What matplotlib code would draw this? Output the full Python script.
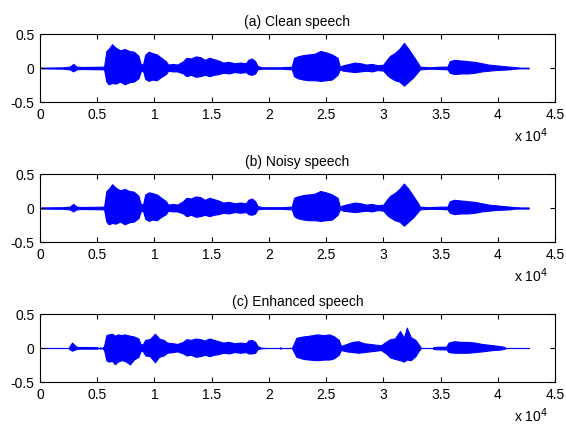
import matplotlib
matplotlib.use("Agg")
import matplotlib.pyplot as plt
from matplotlib.ticker import FuncFormatter

plt.rcParams['font.family'] = ['Liberation Sans', 'DejaVu Sans']

titles = ["(a) Clean speech", "(b) Noisy speech", "(c) Enhanced speech"]
x_ticks = [0, 5000, 10000, 15000, 20000, 25000, 30000, 35000, 40000, 45000]
y_ticks = [-0.5, 0, 0.5]

# Envelope of each waveform (sample index, upper, lower)
clean_x = [0, 2000, 2600, 2900, 3200, 3600, 5600, 5800, 6000, 6300, 6600, 7000, 7400, 7800,
           8200, 8600, 8800, 9000, 9200, 9500, 9800, 10200, 10600, 11000, 11200, 11600,
           12000, 12500, 12800, 13200, 13600, 14000, 14400, 14800, 15200, 15600, 16000,
           16500, 17000, 17500, 18000, 18200, 18500, 18800, 19000, 19400, 20000, 21000,
           22000, 22200, 22500, 23000, 23500, 24000, 24500, 25000, 25500, 26000, 26200,
           26500, 27000, 27500, 28000, 28500, 29000, 29500, 30000, 30300, 30600, 31000,
           31400, 31800, 32200, 32600, 33000, 33200, 34000, 35000, 35600, 35800, 36200,
           36800, 37400, 38000, 38600, 39200, 39800, 40400, 41000, 41400, 42000, 42700]
clean_up = [0.005, 0.01, 0.02, 0.06, 0.02, 0.015, 0.02, 0.25, 0.28, 0.35, 0.30, 0.26, 0.28, 0.25,
            0.24, 0.18, 0.06, 0.05, 0.20, 0.24, 0.22, 0.20, 0.15, 0.10, 0.05, 0.06,
            0.05, 0.10, 0.15, 0.14, 0.17, 0.16, 0.12, 0.15, 0.13, 0.11, 0.08,
            0.09, 0.07, 0.08, 0.07, 0.12, 0.14, 0.10, 0.03, 0.01, 0.01, 0.01,
            0.02, 0.15, 0.17, 0.19, 0.20, 0.21, 0.25, 0.23, 0.20, 0.15, 0.02,
            0.04, 0.06, 0.08, 0.07, 0.05, 0.06, 0.04, 0.05, 0.12, 0.18, 0.22,
            0.28, 0.37, 0.28, 0.18, 0.08, 0.02, 0.01, 0.02, 0.02, 0.10, 0.12,
            0.11, 0.10, 0.09, 0.07, 0.05, 0.04, 0.03, 0.02, 0.015, 0.005, 0.005]
clean_lo = [-0.005, -0.01, -0.02, -0.05, -0.02, -0.015, -0.02, -0.20, -0.24, -0.22, -0.23, -0.20, -0.24, -0.21,
            -0.20, -0.15, -0.05, -0.04, -0.16, -0.19, -0.17, -0.18, -0.13, -0.09, -0.04, -0.05,
            -0.05, -0.08, -0.12, -0.10, -0.13, -0.12, -0.10, -0.12, -0.10, -0.09, -0.07,
            -0.08, -0.06, -0.07, -0.06, -0.09, -0.10, -0.08, -0.02, -0.01, -0.01, -0.01,
            -0.02, -0.12, -0.15, -0.17, -0.18, -0.18, -0.19, -0.18, -0.17, -0.10, -0.02,
            -0.04, -0.05, -0.06, -0.05, -0.04, -0.05, -0.03, -0.04, -0.10, -0.14, -0.18,
            -0.20, -0.26, -0.20, -0.14, -0.06, -0.02, -0.01, -0.015, -0.02, -0.07, -0.09,
            -0.08, -0.08, -0.07, -0.05, -0.04, -0.03, -0.025, -0.02, -0.01, -0.005, -0.005]

noisy_x = clean_x
noisy_up = [0.008, 0.012, 0.02, 0.06, 0.02, 0.015, 0.02, 0.25, 0.28, 0.35, 0.30, 0.26, 0.28, 0.25,
            0.24, 0.18, 0.06, 0.05, 0.20, 0.23, 0.22, 0.20, 0.15, 0.10, 0.05, 0.06,
            0.05, 0.10, 0.15, 0.14, 0.17, 0.16, 0.12, 0.15, 0.13, 0.11, 0.08,
            0.09, 0.07, 0.08, 0.07, 0.12, 0.14, 0.10, 0.03, 0.012, 0.012, 0.012,
            0.02, 0.15, 0.17, 0.19, 0.20, 0.21, 0.25, 0.23, 0.20, 0.15, 0.02,
            0.04, 0.06, 0.08, 0.07, 0.05, 0.06, 0.04, 0.05, 0.12, 0.18, 0.22,
            0.28, 0.36, 0.28, 0.18, 0.08, 0.02, 0.012, 0.02, 0.02, 0.10, 0.12,
            0.11, 0.10, 0.09, 0.07, 0.05, 0.04, 0.03, 0.02, 0.015, 0.008, 0.008]
noisy_lo = [-0.008, -0.012, -0.02, -0.05, -0.02, -0.015, -0.02, -0.20, -0.24, -0.22, -0.23, -0.20, -0.24, -0.21,
            -0.20, -0.15, -0.05, -0.04, -0.16, -0.19, -0.17, -0.18, -0.13, -0.09, -0.04, -0.05,
            -0.05, -0.08, -0.12, -0.10, -0.13, -0.12, -0.10, -0.12, -0.10, -0.09, -0.07,
            -0.08, -0.06, -0.07, -0.06, -0.09, -0.10, -0.08, -0.02, -0.012, -0.012, -0.012,
            -0.02, -0.12, -0.15, -0.17, -0.18, -0.18, -0.19, -0.18, -0.17, -0.10, -0.02,
            -0.04, -0.05, -0.06, -0.05, -0.04, -0.05, -0.03, -0.04, -0.10, -0.14, -0.18,
            -0.20, -0.26, -0.20, -0.14, -0.06, -0.02, -0.012, -0.015, -0.02, -0.07, -0.09,
            -0.08, -0.08, -0.07, -0.05, -0.04, -0.03, -0.025, -0.02, -0.01, -0.008, -0.008]

enh_x = [0, 2500, 2600, 2800, 3100, 3300, 4000, 5000, 5100, 5250, 5400, 5600, 5800, 6000,
         6300, 6550, 6800, 7100, 7400, 7870, 8200, 8600, 8800, 9000, 9200, 9600, 10050,
         10400, 10800, 11100, 11600, 12000, 12500, 12800, 13200, 13600, 14000, 14400, 14800,
         15200, 15600, 16000, 16500, 17000, 17500, 18000, 18200, 18500, 18800, 19000, 19300,
         20000, 20900, 21000, 21100, 22000, 22100, 22400, 23000, 23500, 24200, 24800, 25300,
         25700, 26100, 26300, 26800, 27300, 27800, 28300, 28800, 29300, 29800, 30300, 30600,
         31000, 31460, 31800, 32050, 32400, 32800, 33100, 33300, 34300, 34400, 35000, 35500,
         35700, 36200, 36800, 37400, 38000, 38600, 39100, 39600, 40100, 40500, 40600, 40700,
         42700]
enh_up = [0.0, 0.0, 0.03, 0.08, 0.03, 0.015, 0.015, 0.012, 0.0, 0.01, 0.0, 0.03, 0.19, 0.20,
          0.21, 0.18, 0.20, 0.19, 0.20, 0.18, 0.17, 0.14, 0.05, 0.06, 0.12, 0.13, 0.21,
          0.14, 0.12, 0.08, 0.07, 0.06, 0.09, 0.13, 0.12, 0.14, 0.13, 0.11, 0.14,
          0.12, 0.10, 0.08, 0.09, 0.07, 0.08, 0.07, 0.11, 0.12, 0.09, 0.03, 0.005,
          0.0, 0.0, 0.01, 0.0, 0.0, 0.03, 0.15, 0.17, 0.18, 0.20, 0.19, 0.20,
          0.17, 0.12, 0.03, 0.06, 0.09, 0.10, 0.07, 0.06, 0.05, 0.04, 0.10, 0.13,
          0.14, 0.25, 0.15, 0.30, 0.16, 0.12, 0.05, 0.0, 0.0, 0.015, 0.02, 0.02,
          0.08, 0.10, 0.09, 0.09, 0.08, 0.06, 0.05, 0.04, 0.03, 0.02, 0.01, 0.0,
          0.0]
enh_lo = [0.0, 0.0, -0.02, -0.04, -0.02, -0.01, -0.01, -0.01, 0.0, -0.01, 0.0, -0.03, -0.18, -0.20,
          -0.19, -0.24, -0.20, -0.18, -0.19, -0.24, -0.17, -0.13, -0.04, -0.05, -0.11, -0.12, -0.21,
          -0.13, -0.11, -0.07, -0.06, -0.05, -0.08, -0.11, -0.10, -0.13, -0.12, -0.10, -0.12,
          -0.10, -0.09, -0.07, -0.08, -0.06, -0.07, -0.06, -0.08, -0.08, -0.07, -0.02, -0.005,
          0.0, 0.0, -0.01, 0.0, 0.0, -0.03, -0.13, -0.16, -0.17, -0.18, -0.17, -0.17,
          -0.15, -0.10, -0.03, -0.05, -0.06, -0.07, -0.06, -0.05, -0.04, -0.03, -0.09, -0.14,
          -0.16, -0.18, -0.20, -0.17, -0.18, -0.12, -0.04, 0.0, 0.0, -0.015, -0.02, -0.02,
          -0.06, -0.07, -0.07, -0.07, -0.06, -0.05, -0.04, -0.03, -0.025, -0.015, -0.01, 0.0,
          0.0]

series = [(clean_x, clean_up, clean_lo), (noisy_x, noisy_up, noisy_lo), (enh_x, enh_up, enh_lo)]

fig = plt.figure(figsize=(5.66, 4.29), dpi=100)
W, H = 566.0, 429.0
left, right = 40, 555
tops = [34, 174, 314]
ph = 68

for i, (xs, up, lo) in enumerate(series):
    top = tops[i]
    ax = fig.add_axes([left / W, 1 - (top + ph) / H, (right - left) / W, ph / H])
    ax.fill_between(xs, lo, up, facecolor=(0, 0, 1), edgecolor=(0, 0, 1), linewidth=0.8)
    ax.set_xlim(0, 45000)
    ax.set_ylim(-0.5, 0.5)
    ax.set_xticks(x_ticks)
    ax.set_yticks(y_ticks)
    ax.xaxis.set_major_formatter(FuncFormatter(lambda v, p: f"{v / 1e4:g}"))
    ax.yaxis.set_major_formatter(FuncFormatter(lambda v, p: f"{v:g}"))
    ax.tick_params(direction='in', top=True, right=True, length=3.5, width=0.8,
                   labelsize=10, pad=4, colors='black')
    for s in ax.spines.values():
        s.set_linewidth(0.8)
    ax.set_title(titles[i], fontsize=10, pad=6)
    fig.text(548 / W, 1 - (top + ph + 34) / H, r"x 10$^4$", ha='right', va='center', fontsize=10)

fig.savefig("out.png", dpi=100)
